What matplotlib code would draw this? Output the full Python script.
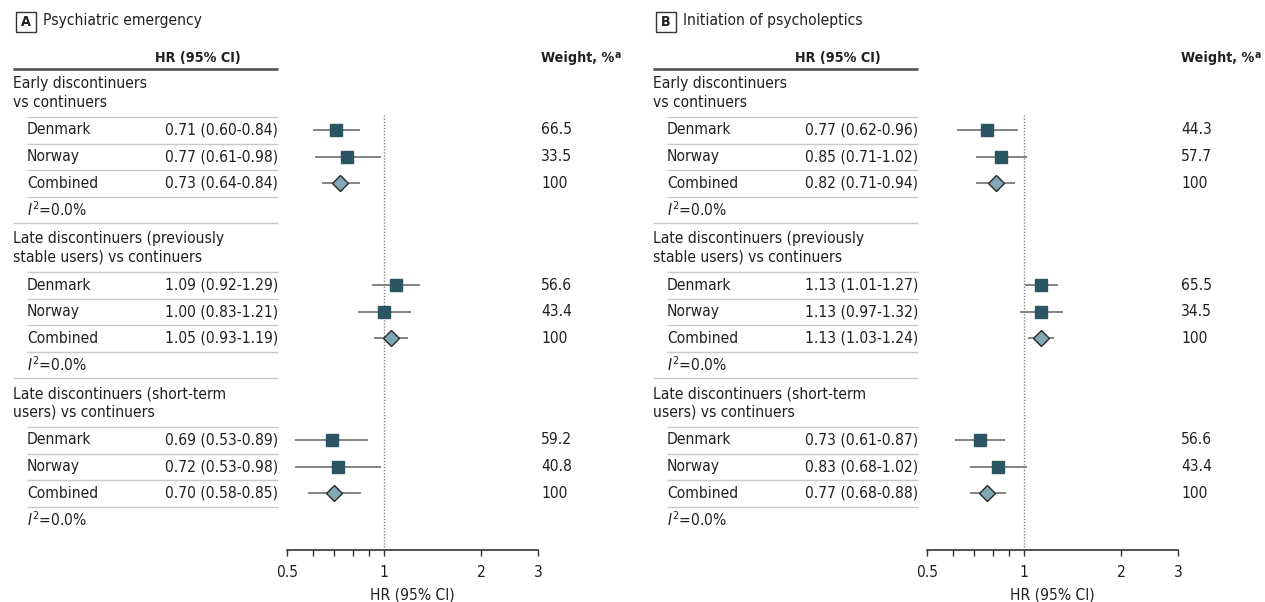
import matplotlib
matplotlib.use("Agg")
import matplotlib.pyplot as plt
from matplotlib.patches import Rectangle

plt.rcParams["font.family"] = ["DejaVu Sans"]
plt.rcParams["font.stretch"] = "condensed"
plt.rcParams["mathtext.fontset"] = "dejavusans"

# ---- data ----
countries = ["Denmark", "Norway", "Combined"]
groups = [
    "Early discontinuers\nvs continuers",
    "Late discontinuers (previously\nstable users) vs continuers",
    "Late discontinuers (short-term\nusers) vs continuers",
]
i2_values = ["0.0%", "0.0%", "0.0%"]

# A: psychiatric emergency
emerg_hr = [[0.71, 0.77, 0.73], [1.09, 1.00, 1.05], [0.69, 0.72, 0.70]]
emerg_lo = [[0.60, 0.61, 0.64], [0.92, 0.83, 0.93], [0.53, 0.53, 0.58]]
emerg_hi = [[0.84, 0.98, 0.84], [1.29, 1.21, 1.19], [0.89, 0.98, 0.85]]
emerg_wt = [[66.5, 33.5, 100], [56.6, 43.4, 100], [59.2, 40.8, 100]]

# B: initiation of psycholeptics
psy_hr = [[0.77, 0.85, 0.82], [1.13, 1.13, 1.13], [0.73, 0.83, 0.77]]
psy_lo = [[0.62, 0.71, 0.71], [1.01, 0.97, 1.03], [0.61, 0.68, 0.68]]
psy_hi = [[0.96, 1.02, 0.94], [1.27, 1.32, 1.24], [0.87, 1.02, 0.88]]
psy_wt = [[44.3, 57.7, 100], [65.5, 34.5, 100], [56.6, 43.4, 100]]

xticks = [0.5, 1, 2, 3]
xminor = [0.6, 0.7, 0.8, 0.9]

W, H = 1265, 602
TXT = "#231f20"
SQ = "#2c5564"
DIA = "#7fa7b4"
CI = "#7a7a7a"
SEP = "#c9c9c4"
FS = 11.2
FSB = 10.3  # bold headers

fig = plt.figure(figsize=(W / 100, H / 100), dpi=100)
bg = fig.add_axes([0, 0, 1, 1])
bg.set_xlim(0, W)
bg.set_ylim(H, 0)
bg.axis("off")


def hline(x0, x1, y, color=SEP, lw=1.0):
    bg.plot([x0, x1], [y, y], color=color, lw=lw, solid_capstyle="butt")


def panel(ox, letter, title, hr, lo, hi, wt):
    # panel tag and title
    bg.add_patch(Rectangle((ox + 16, 12), 20, 20, fill=False, ec="#333333", lw=1.0))
    bg.text(ox + 26, 22.5, letter, ha="center", va="center", fontsize=FSB, fontweight="bold", color=TXT)
    bg.text(ox + 43, 21, title, ha="left", va="center", fontsize=FS, color=TXT)

    # column headers
    bg.text(ox + 155, 58, "HR (95% CI)", ha="left", va="center", fontsize=FSB, fontweight="bold", color=TXT)
    wt_head = bg.text(ox + 541, 58, "Weight, %", ha="left", va="center", fontsize=FSB,
                      fontweight="bold", color=TXT)
    bg.annotate("a", xy=(1, 1), xycoords=wt_head, xytext=(0.5, 0.5), textcoords="offset points",
                ha="left", va="top", fontsize=7.5, fontweight="bold", color=TXT)
    hline(ox + 13, ox + 278, 69, color="#5a5a5a", lw=2.0)

    # forest axes, y in pixel units so it lines up with the table rows
    ax = fig.add_axes([(ox + 287) / W, (H - 550) / H, 251 / W, (550 - 100) / H])
    ax.set_xscale("log")
    ax.set_xlim(0.5, 3)
    ax.set_ylim(550, 100)
    ax.patch.set_alpha(0)
    for s in ["top", "left", "right"]:
        ax.spines[s].set_visible(False)
    ax.spines["bottom"].set_color("#333333")
    ax.spines["bottom"].set_linewidth(1.2)
    ax.set_yticks([])
    ax.set_xticks(xticks)
    ax.set_xticklabels([f"{t:g}" for t in xticks])
    ax.set_xticks(xminor, minor=True)
    ax.set_xticklabels([], minor=True)
    ax.tick_params(axis="x", which="both", direction="out", length=4.5, width=1.0,
                   color="#333333", labelsize=FS, labelcolor=TXT, pad=6)
    ax.set_xlabel("HR (95% CI)", fontsize=FS, color=TXT, labelpad=6)
    ax.plot([1, 1], [115, 550], color="#888888", lw=1.0, ls=(0, (1, 1.2)))

    for g in range(3):
        base = 83 + 155 * g
        bg.text(ox + 13, base + 10, groups[g], ha="left", va="center", fontsize=FS,
                color=TXT, linespacing=1.3)
        hline(ox + 27, ox + 278, base + 34)
        for i in range(4):
            if g == 2 and i == 3:
                break
            x0 = ox + 13 if i == 3 else ox + 27
            hline(x0, ox + 278, base + 34 + 26.6 * (i + 1))
        for i, name in enumerate(countries):
            y = base + 47 + 26.6 * i
            bg.text(ox + 27, y, name, ha="left", va="center", fontsize=FS, color=TXT)
            bg.text(ox + 278, y, f"{hr[g][i]:.2f} ({lo[g][i]:.2f}-{hi[g][i]:.2f})",
                    ha="right", va="center", fontsize=FS, color=TXT)
            bg.text(ox + 541, y, f"{wt[g][i]:g}", ha="left", va="center", fontsize=FS, color=TXT)
            ax.plot([lo[g][i], hi[g][i]], [y, y], color=CI, lw=1.3, solid_capstyle="butt")
            if name == "Combined":
                ax.plot(hr[g][i], y, marker="D", ms=8, mfc=DIA, mec="#2a2a2a", mew=1.0)
            else:
                ax.plot(hr[g][i], y, marker="s", ms=8, mfc=SQ, mec=SQ)
        y = base + 47 + 26.6 * 3
        bg.text(ox + 27, y, r"$I^2$" + f"={i2_values[g]}", ha="left", va="center",
                fontsize=FS, color=TXT)


panel(0, "A", "Psychiatric emergency", emerg_hr, emerg_lo, emerg_hi, emerg_wt)
panel(640, "B", "Initiation of psycholeptics", psy_hr, psy_lo, psy_hi, psy_wt)

fig.savefig("out.png", dpi=100)
